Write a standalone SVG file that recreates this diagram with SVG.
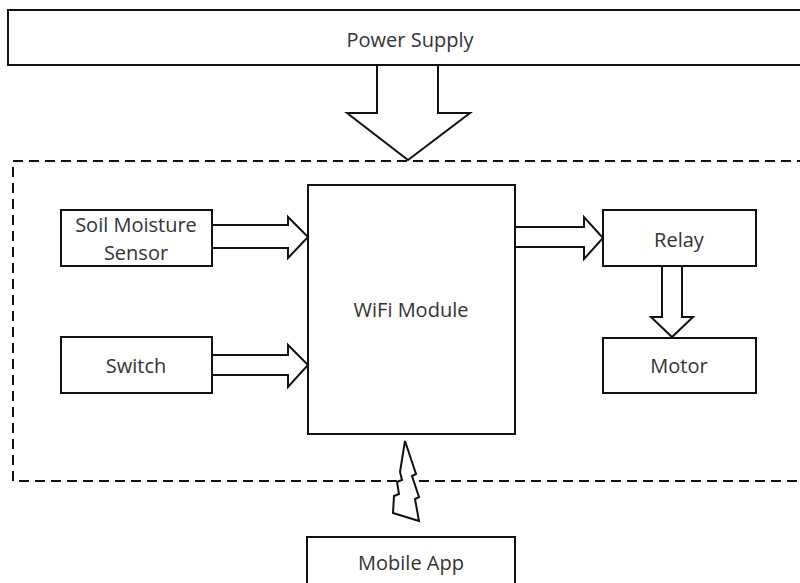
<svg xmlns="http://www.w3.org/2000/svg" width="800" height="583" viewBox="0 0 800 583">
<style>
.box{fill:#fff;stroke:#111;stroke-width:2}
.arr{fill:#fff;stroke:#111;stroke-width:2;stroke-linejoin:miter}
.dash{fill:none;stroke:#111;stroke-width:2;stroke-dasharray:10,6}
text{font-family:"Open Sans","Liberation Sans",sans-serif;font-size:20px;fill:#333;text-anchor:middle}
</style>
<rect width="800" height="583" fill="#fff"/>
<g id="boundary"><rect class="dash" x="13" y="161" width="800" height="320"/></g>
<g id="power"><rect class="box" x="8" y="10" width="800" height="55"/><text x="410" y="47">Power Supply</text></g>
<g id="soil"><rect class="box" x="61" y="210" width="151" height="56"/><text x="136" y="232">Soil Moisture</text><text x="136" y="260">Sensor</text></g>
<g id="switch"><rect class="box" x="61" y="337" width="151" height="56"/><text x="136" y="373">Switch</text></g>
<g id="wifi"><rect class="box" x="308" y="185" width="207" height="249"/><text x="411" y="317">WiFi Module</text></g>
<g id="relay"><rect class="box" x="603" y="210" width="153" height="56"/><text x="679" y="247">Relay</text></g>
<g id="motor"><rect class="box" x="603" y="338" width="153" height="55"/><text x="679" y="373">Motor</text></g>
<g id="mobile"><rect class="box" x="307" y="537" width="208" height="60"/><text x="411" y="570">Mobile App</text></g>
<g id="connectors">
<polygon class="arr" points="377,65 438,65 438,113 470,113 408,160 347,113 377,113"/>
<polygon class="arr" points="212,225 288,225 288,217 308,237 288,258 288,248 212,248"/>
<polygon class="arr" points="212,355 288,355 288,345 308,365 288,387 288,375 212,375"/>
<polygon class="arr" points="515,227 584,227 584,217 603,238 584,259 584,247 515,247"/>
<polygon class="arr" points="662,266 682,266 682,317 693,317 672,337 651,317 662,317"/>
<polygon class="arr" points="405,441 416,474 412,476 419,497 415,499 419,521 393,513 394,496 399,494 397,482 402,480 400,472 405,441"/>
</g>
</svg>
